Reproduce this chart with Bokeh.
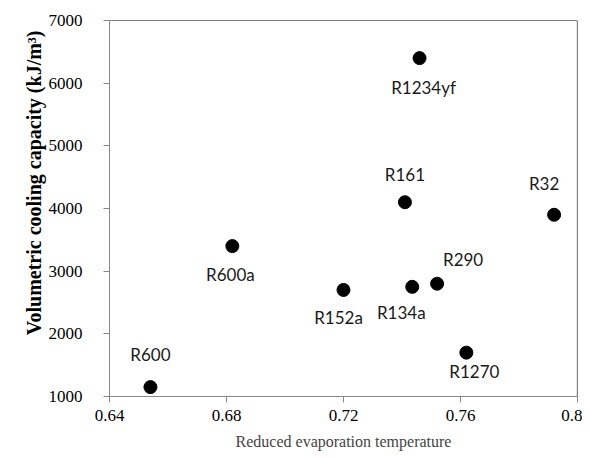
from bokeh.plotting import figure
from bokeh.models import Range1d, FixedTicker, Span, Title, ColumnDataSource
from bokeh.core.properties import value
from bokeh.embed import file_html
from bokeh.resources import INLINE

# data
refrigerants = ["R600", "R600a", "R152a", "R1234yf", "R161", "R32", "R134a", "R290", "R1270"]
reduced_temp = [0.654, 0.682, 0.720, 0.746, 0.741, 0.792, 0.7435, 0.752, 0.762]
cooling_capacity = [1150, 3400, 2700, 6400, 4100, 3900, 2750, 2800, 1700]
x_ticks = [0.64, 0.68, 0.72, 0.76, 0.8]
x_tick_labels = ["0.64", "0.68", "0.72", "0.76", "0.8"]
y_ticks = [1000, 2000, 3000, 4000, 5000, 6000, 7000]

# label placement (pixel offsets, layout only)
label_dx = [0, -2, -5, 4, 0, -10, -11, 26, 8]
label_dy = [-33, 28, 28, 29, -28, -31, 26, -24, 19]

src = ColumnDataSource(dict(x=reduced_temp, y=cooling_capacity, name=refrigerants,
                            dx=label_dx, dy=label_dy))

p = figure(width=582, height=451, frame_width=468, frame_height=376,
           output_backend="svg", toolbar_location=None,
           x_range=Range1d(0.64, 0.8), y_range=Range1d(1000, 7000),
           min_border_left=109, min_border_right=5, min_border_top=20, min_border_bottom=10)
p.outline_line_color = None
p.grid.visible = False
p.background_fill_color = "white"

p.scatter("x", "y", source=src, size=13, color="black")
p.text("x", "y", text="name", source=src, x_offset="dx", y_offset="dy",
       text_font=value("Lato"), text_font_size="17px", text_color="#1a1a1a",
       text_align="center", text_baseline="middle")

p.add_layout(Span(location=7000, dimension="width", line_color="black", line_width=1.2))
p.add_layout(Span(location=0.8, dimension="height", line_color="black", line_width=1.2))

for ax in (p.xaxis[0], p.yaxis[0]):
    ax.axis_line_color = "#888888"
    ax.major_tick_line_color = "#888888"
    ax.major_tick_out = 6
    ax.major_tick_in = 0
    ax.minor_tick_line_color = None
    ax.major_label_text_font = "Liberation Serif"
    ax.major_label_text_font_size = "17px"
    ax.major_label_text_color = "black"

p.xaxis.ticker = FixedTicker(ticks=x_ticks)
p.xaxis.major_label_overrides = {t: l for t, l in zip(x_ticks, x_tick_labels)}
p.xaxis.major_label_standoff = 7
p.xaxis.axis_label = "Reduced evaporation temperature"
p.xaxis.axis_label_text_font = "Liberation Serif"
p.xaxis.axis_label_text_font_size = "16px"
p.xaxis.axis_label_text_font_style = "normal"
p.xaxis.axis_label_standoff = 9

p.yaxis.ticker = FixedTicker(ticks=y_ticks)
p.yaxis.major_label_standoff = 21

ytitle = Title(text="Volumetric cooling capacity (kJ/m\u00b3)", align="right", offset=10,
               text_font="Liberation Serif", text_font_size="20px", text_font_style="bold",
               text_color="black", standoff=2)
p.add_layout(ytitle, "left")

open("out.html", "w").write(file_html(p, INLINE))
